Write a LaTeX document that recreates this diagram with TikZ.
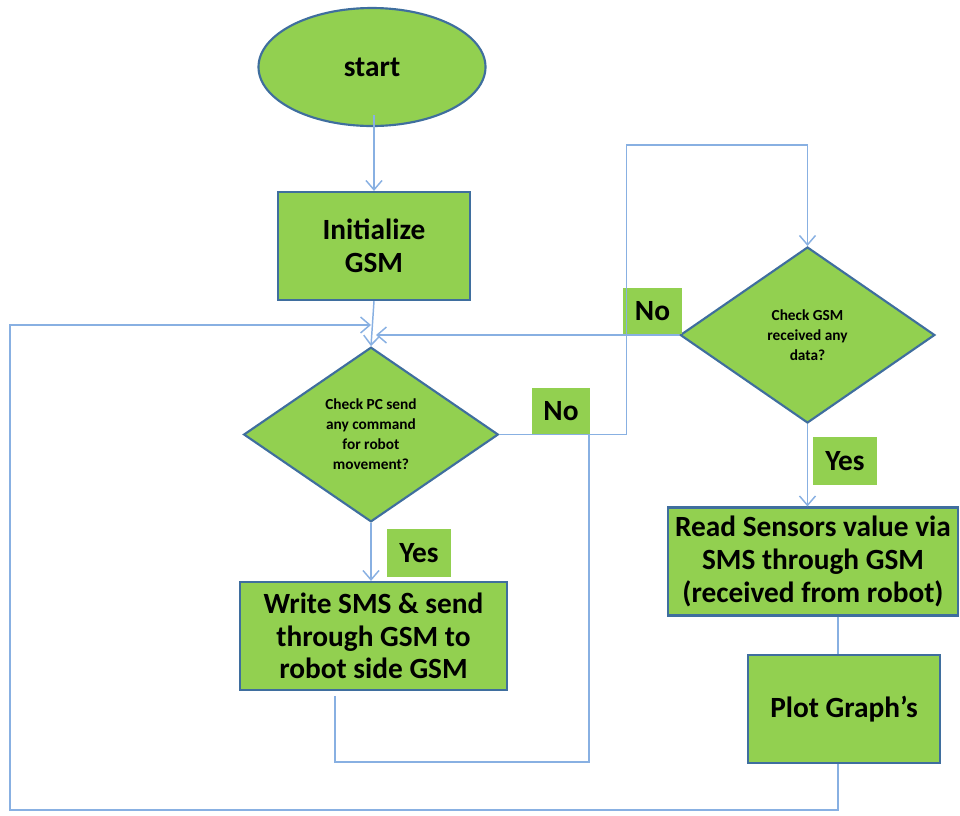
\documentclass[tikz,border=0pt]{standalone}
\usepackage{fontspec}
\setmainfont{Carlito}
\usetikzlibrary{shapes.geometric,arrows.meta,calc}
\definecolor{boxgreen}{HTML}{92D050}
\definecolor{boxedge}{HTML}{3F6E9E}
\definecolor{linkblue}{HTML}{88B0E2}
\tikzset{
  bigtext/.style={font=\fontsize{22}{24.5}\selectfont\bfseries, align=center, text=black},
  smalltext/.style={font=\fontsize{11.5}{15}\selectfont\bfseries, align=center, text=black},
  procbox/.style={draw=boxedge, line width=1.6pt, fill=boxgreen, rectangle, inner sep=0pt, bigtext},
  decbox/.style={draw=boxedge, line width=1.6pt, fill=boxgreen, diamond, inner sep=0pt, smalltext},
  termshape/.style={draw=boxedge, line width=1.6pt, fill=boxgreen},
  tagbox/.style={fill=boxgreen, rectangle, inner sep=0pt, bigtext},
  conn/.style={draw=linkblue, line width=1.1pt},
  arr/.style={conn, -{Straight Barb[length=7pt,width=12pt,line width=1.1pt]}}
}
\begin{document}
\begin{tikzpicture}[x=0.75pt,y=-0.75pt]
\useasboundingbox (0,0) rectangle (960,815);

% start terminal
\path[termshape] (372,67) ellipse [x radius=113.5, y radius=59];
\node[bigtext, inner sep=0pt] (start) at (372,67) {start};

% nodes
\node[procbox, minimum width=144pt, minimum height=81pt] (init) at (374,246) {Initialize\\GSM};
\node[decbox, minimum width=191pt, minimum height=131pt] (d1) at (371,434.5) {Check PC send\\any command\\for robot\\movement?};
\node[decbox, minimum width=191pt, minimum height=132pt] (d2) at (807.5,335) {Check GSM\\received any\\data?};
\node[procbox, minimum width=200.25pt, minimum height=81pt] (write) at (373.5,636) {Write SMS \& send\\through GSM to\\robot side GSM};
\node[procbox, minimum width=217.5pt, minimum height=81pt] (read) at (813,561.5) {Read Sensors value via\\SMS through GSM\\(received from robot)};
\node[procbox, minimum width=144pt, minimum height=81pt] (plot) at (844,709) {Plot Graph’s};

\node[tagbox, minimum width=43.5pt, minimum height=35pt] (no1) at (561,411.5) {No};
\node[tagbox, minimum width=44pt, minimum height=34.5pt] (no2) at (652.5,311) {No};
\node[tagbox, minimum width=48pt, minimum height=36pt] (yes1) at (419,553) {Yes};
\node[tagbox, minimum width=48pt, minimum height=36pt] (yes2) at (845,461) {Yes};

% junction points
\coordinate (s0) at (374,115);
\coordinate (j1) at (371,325);
\coordinate (j2) at (376,335);
\coordinate (j3) at (589,435);

% connectors
\draw[arr] (s0) -- (init.north);
\draw[arr] (init.south) -- (d1.north);
\draw[arr] ([xshift=-4.5pt]plot.south) -- ++(0,46) -| (10,325) -- (j1);
\draw[arr] (d2.west) -- (j2);
\draw[arr] (d1.east) -- ++(127,0) |- ($(d2.north)+(0,-101)$) -- (d2.north);
\draw[conn] ($(write.south)+(-38.5,5)$) -- ++(0,66) -| (j3);
\draw[arr] (d2.south) -- (d2.south |- read.north);
\draw[conn] ([xshift=-4.5pt]plot.north |- read.south) -- ([xshift=-4.5pt]plot.north);
\draw[arr] (d1.south) -- (d1.south |- write.north);
\end{tikzpicture}
\end{document}
